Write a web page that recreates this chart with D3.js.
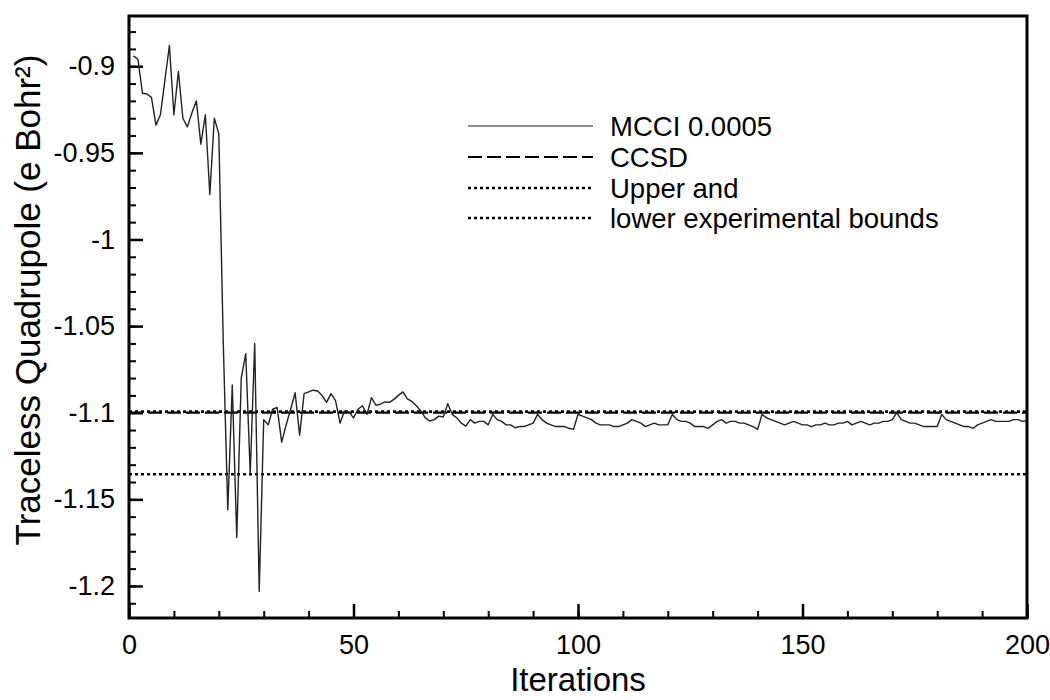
<!DOCTYPE html>
<html>
<head>
<meta charset="utf-8">
<script src="https://cdn.jsdelivr.net/npm/d3@7"></script>
<style>
  body { margin: 0; background: #fff; }
  svg { font-family: "Liberation Sans", Arial, Helvetica, sans-serif; }
</style>
</head>
<body>
<div class="display"></div>
<script>
// MCCI 0.0005 run: [iteration, traceless quadrupole]
const mcci = [
  [1,-0.894],[2,-0.896],[3,-0.9156],[4,-0.916],[5,-0.918],[6,-0.934],[7,-0.928],[8,-0.908],[9,-0.888],[10,-0.928],
  [11,-0.903],[12,-0.930],[13,-0.935],[14,-0.927],[15,-0.920],[16,-0.945],[17,-0.928],[18,-0.974],[19,-0.930],[20,-0.939],
  [21,-1.06],[22,-1.156],[23,-1.084],[24,-1.172],[25,-1.080],[26,-1.066],[27,-1.135],[28,-1.060],[29,-1.203],[30,-1.104],
  [31,-1.107],[32,-1.098],[33,-1.097],[34,-1.117],[35,-1.107],[36,-1.098],[37,-1.0885],[38,-1.113],[39,-1.089],[40,-1.088],
  [41,-1.087],[42,-1.0875],[43,-1.090],[44,-1.094],[45,-1.089],[46,-1.093],[47,-1.106],[48,-1.099],[49,-1.0995],[50,-1.103],
  [51,-1.098],[52,-1.096],[53,-1.101],[54,-1.0913],[55,-1.0957],[56,-1.095],[57,-1.0938],[58,-1.094],[59,-1.0923],[60,-1.090],
  [61,-1.088],[62,-1.092],[63,-1.0935],[64,-1.096],[65,-1.099],[66,-1.103],[67,-1.1048],[68,-1.104],[69,-1.102],[70,-1.1025],
  [71,-1.0948],[72,-1.101],[73,-1.103],[74,-1.106],[75,-1.1077],[76,-1.104],[77,-1.106],[78,-1.105],[79,-1.105],[80,-1.107],
  [81,-1.101],[82,-1.104],[83,-1.105],[84,-1.107],[85,-1.107],[86,-1.1087],[87,-1.108],[88,-1.108],[89,-1.107],[90,-1.106],
  [91,-1.101],[92,-1.104],[93,-1.106],[94,-1.107],[95,-1.108],[96,-1.108],[97,-1.108],[98,-1.109],[99,-1.1096],[100,-1.101],
  [101,-1.102],[102,-1.103],[103,-1.104],[104,-1.106],[105,-1.107],[106,-1.107],[107,-1.107],[108,-1.108],[109,-1.108],[110,-1.107],
  [111,-1.106],[112,-1.104],[113,-1.105],[114,-1.106],[115,-1.108],[116,-1.107],[117,-1.106],[118,-1.107],[119,-1.107],[120,-1.107],
  [121,-1.101],[122,-1.104],[123,-1.105],[124,-1.105],[125,-1.106],[126,-1.108],[127,-1.108],[128,-1.108],[129,-1.109],[130,-1.107],
  [131,-1.105],[132,-1.104],[133,-1.106],[134,-1.105],[135,-1.105],[136,-1.106],[137,-1.106],[138,-1.107],[139,-1.108],[140,-1.1096],
  [141,-1.101],[142,-1.103],[143,-1.104],[144,-1.105],[145,-1.106],[146,-1.107],[147,-1.106],[148,-1.105],[149,-1.106],[150,-1.107],
  [151,-1.107],[152,-1.108],[153,-1.107],[154,-1.107],[155,-1.106],[156,-1.107],[157,-1.107],[158,-1.106],[159,-1.106],[160,-1.105],
  [161,-1.107],[162,-1.106],[163,-1.105],[164,-1.106],[165,-1.107],[166,-1.106],[167,-1.106],[168,-1.105],[169,-1.105],[170,-1.104],
  [171,-1.100],[172,-1.104],[173,-1.105],[174,-1.106],[175,-1.106],[176,-1.107],[177,-1.108],[178,-1.108],[179,-1.108],[180,-1.108],
  [181,-1.101],[182,-1.104],[183,-1.105],[184,-1.106],[185,-1.107],[186,-1.108],[187,-1.108],[188,-1.109],[189,-1.107],[190,-1.106],
  [191,-1.105],[192,-1.104],[193,-1.105],[194,-1.105],[195,-1.105],[196,-1.105],[197,-1.104],[198,-1.104],[199,-1.105],[200,-1.1045]
];

// reference levels
const ccsd = -1.0999;
const expUpper = -1.0994;
const expLower = -1.1355;

const xMajorTicks = [0, 50, 100, 150, 200];
const xMinorTicks = d3.range(0, 201, 10);
const yMajorTicks = [-1.2, -1.15, -1.1, -1.05, -1, -0.95, -0.9];
const yMinorTicks = d3.range(-1.21, -0.875, 0.01);

const legendLabels = ['MCCI 0.0005', 'CCSD', 'Upper and', 'lower experimental bounds'];

const config = {
  width: 1050,
  height: 700,
  left: 129,
  right: 1027,
  top: 16,
  bottom: 618,
  xDomain: [0, 200],
  yDomain: [-1.2185, -0.871]
};

const dotted = '3,3';
const dashed = '14,5';

const svg = d3.select('.display')
  .append('svg')
  .attr('width', config.width)
  .attr('height', config.height);

const x = d3.scaleLinear().domain(config.xDomain).range([config.left, config.right]);
const y = d3.scaleLinear().domain(config.yDomain).range([config.bottom, config.top]);

// minor ticks
svg.append('g')
  .attr('transform', `translate(0, ${config.bottom})`)
  .call(d3.axisBottom(x).tickValues(xMinorTicks).tickSize(-7).tickFormat(''))
  .call(g => g.select('.domain').remove())
  .call(g => g.selectAll('line').attr('stroke-width', 2));

svg.append('g')
  .attr('transform', `translate(${config.left}, 0)`)
  .call(d3.axisLeft(y).tickValues(yMinorTicks).tickSize(-7).tickFormat(''))
  .call(g => g.select('.domain').remove())
  .call(g => g.selectAll('line').attr('stroke-width', 2));

// major ticks + labels
svg.append('g')
  .attr('transform', `translate(0, ${config.bottom})`)
  .call(d3.axisBottom(x).tickValues(xMajorTicks).tickSize(-14).tickPadding(17).tickFormat(d3.format('d')))
  .call(g => g.select('.domain').remove())
  .call(g => g.selectAll('line').attr('stroke-width', 2.5))
  .call(g => g.selectAll('text').attr('font-size', 27).attr('fill', '#000'));

svg.append('g')
  .attr('transform', `translate(${config.left}, 0)`)
  .call(d3.axisLeft(y).tickValues(yMajorTicks).tickSize(-14).tickPadding(14).tickFormat(d => String(+d.toFixed(2))))
  .call(g => g.select('.domain').remove())
  .call(g => g.selectAll('line').attr('stroke-width', 2.5))
  .call(g => g.selectAll('text').attr('font-size', 27).attr('fill', '#000'));

// reference lines
const refLines = [
  { v: ccsd, dash: dashed, w: 2.2 },
  { v: expUpper, dash: dotted, w: 2.6 },
  { v: expLower, dash: dotted, w: 2.6 }
];
svg.selectAll('.ref')
  .data(refLines)
  .enter()
  .append('line')
  .attr('class', 'ref')
  .attr('x1', config.left)
  .attr('x2', config.right)
  .attr('y1', d => y(d.v))
  .attr('y2', d => y(d.v))
  .attr('stroke', '#000')
  .attr('stroke-width', d => d.w)
  .attr('stroke-dasharray', d => d.dash);

// MCCI line
svg.append('path')
  .datum(mcci)
  .attr('fill', 'none')
  .attr('stroke', '#222')
  .attr('stroke-width', 1.4)
  .attr('stroke-linejoin', 'round')
  .attr('d', d3.line().x(d => x(d[0])).y(d => y(d[1])));

// frame
svg.append('rect')
  .attr('x', config.left)
  .attr('y', config.top)
  .attr('width', config.right - config.left)
  .attr('height', config.bottom - config.top)
  .attr('fill', 'none')
  .attr('stroke', '#000')
  .attr('stroke-width', 3);

// axis titles
svg.append('text')
  .attr('x', (config.left + config.right) / 2)
  .attr('y', 691)
  .attr('text-anchor', 'middle')
  .attr('font-size', 33)
  .text('Iterations');

svg.append('text')
  .attr('transform', 'translate(40, 300) rotate(-90)')
  .attr('text-anchor', 'middle')
  .attr('font-size', 35)
  .text('Traceless Quadrupole (e Bohr²)');

// legend
const legendStyles = [
  { dash: null, w: 1.6, color: '#666' },
  { dash: dashed, w: 2, color: '#000' },
  { dash: dotted, w: 2.6, color: '#000' },
  { dash: dotted, w: 2.6, color: '#000' }
];
const legendRows = [126, 157, 188, 218];

const legend = svg.append('g');
legend.selectAll('line')
  .data(legendStyles)
  .enter()
  .append('line')
  .attr('x1', 468)
  .attr('x2', 593)
  .attr('y1', (d, i) => legendRows[i])
  .attr('y2', (d, i) => legendRows[i])
  .attr('stroke', d => d.color)
  .attr('stroke-width', d => d.w)
  .attr('stroke-dasharray', d => d.dash);

legend.selectAll('text')
  .data(legendLabels)
  .enter()
  .append('text')
  .attr('x', 610)
  .attr('y', (d, i) => legendRows[i])
  .attr('dy', '0.35em')
  .attr('font-size', 27.5)
  .text(d => d);
</script>
</body>
</html>
